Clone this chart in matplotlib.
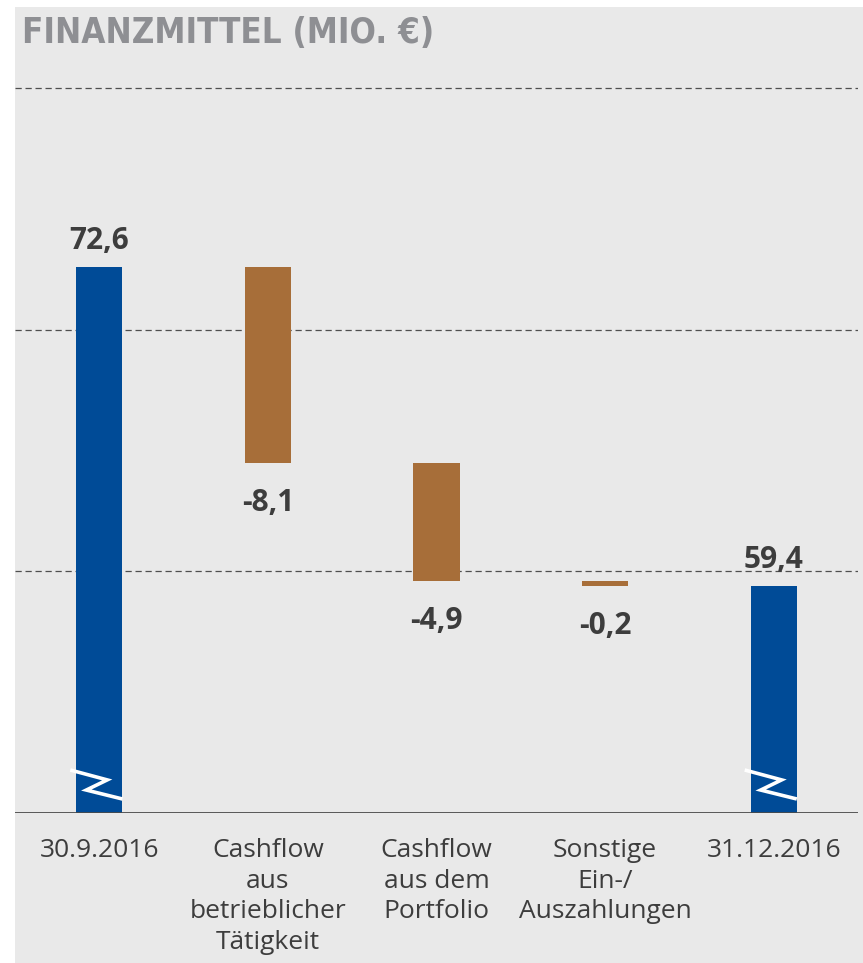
import numpy as np
import matplotlib.pyplot as plt
from matplotlib.patches import Rectangle

# Finanzmittel in Mio. €
categories = ["30.9.2016", "Cashflow\naus\nbetrieblicher\nTätigkeit",
              "Cashflow\naus dem\nPortfolio", "Sonstige\nEin-/\nAuszahlungen", "31.12.2016"]
start_value = 72.6
changes = [-8.1, -4.9, -0.2]
end_value = 59.4
labels = ["72,6", "-8,1", "-4,9", "-0,2", "59,4"]

BLUE = "#004b97"
BROWN = "#a76e39"
BG = "#e9e9e9"
TEXT = "#3d3d3d"
Y_MIN, Y_MAX = 50, 81

plt.rcParams["font.family"] = ["Open Sans", "DejaVu Sans"]

fig = plt.figure(figsize=(8.63, 9.63), dpi=100, facecolor="white")
bg = Rectangle((15 / 863, 0), 1, 956 / 963, transform=fig.transFigure,
               facecolor=BG, edgecolor="none", zorder=-10)
fig.add_artist(bg)

ax = fig.add_axes([15 / 863, 150 / 963, 843 / 863, 749 / 963])
ax.set_facecolor("none")

x = np.arange(len(categories))
width = 0.273

# Waterfall: totals from the baseline, changes floating from the running total
running = [start_value]
for c in changes:
    running.append(running[-1] + c)

ax.bar(x[0], start_value - Y_MIN, bottom=Y_MIN, width=width, color=BLUE, zorder=3)
ax.bar(x[-1], end_value - Y_MIN, bottom=Y_MIN, width=width, color=BLUE, zorder=3)
for i, c in enumerate(changes):
    ax.bar(x[i + 1], abs(c), bottom=running[i + 1], width=width, color=BROWN, zorder=3)

# value labels
ax.annotate(labels[0], (x[0], start_value), xytext=(0, 8), textcoords="offset points",
            ha="center", va="bottom", fontsize=21.5, fontweight="bold", color=TEXT)
ax.annotate(labels[-1], (x[-1], end_value), xytext=(0, 8), textcoords="offset points",
            ha="center", va="bottom", fontsize=21.5, fontweight="bold", color=TEXT)
for i in range(len(changes)):
    ax.annotate(labels[i + 1], (x[i + 1], running[i + 1]), xytext=(0, -18),
                textcoords="offset points", ha="center", va="top",
                fontsize=21.5, fontweight="bold", color=TEXT)

# axis break marks on the total bars
zig_dx = np.array([-0.172, 0.047, -0.077, 0.137])
zig_y = np.array([51.78, 51.37, 50.95, 50.58])
for xi in (x[0], x[-1]):
    ax.plot(xi + zig_dx, zig_y, color="white", lw=2.6, zorder=4,
            solid_capstyle="butt", solid_joinstyle="miter")

for yv in (60, 70, 80):
    ax.axhline(yv, color="#4f4f4f", lw=0.9, ls=(0, (5, 3)), zorder=1)
ax.axhline(Y_MIN, color="#4a4a4a", lw=2, zorder=5)

ax.set_xlim(-0.5, 4.5)
ax.set_ylim(Y_MIN, Y_MAX)
ax.set_yticks([])
ax.set_xticks(x)
ax.set_xticklabels(categories, fontsize=19, color=TEXT, linespacing=1.3)
ax.tick_params(axis="x", length=0, pad=18)
for s in ax.spines.values():
    s.set_visible(False)

fig.text(22 / 863, 1 - 33 / 963, "FINANZMITTEL (MIO. €)", ha="left", va="center",
         fontsize=25, fontweight="bold", fontstretch="condensed", color="#8e8f93",
         family=["DejaVu Sans"])

fig.savefig("out.png", dpi=100, facecolor=fig.get_facecolor())
